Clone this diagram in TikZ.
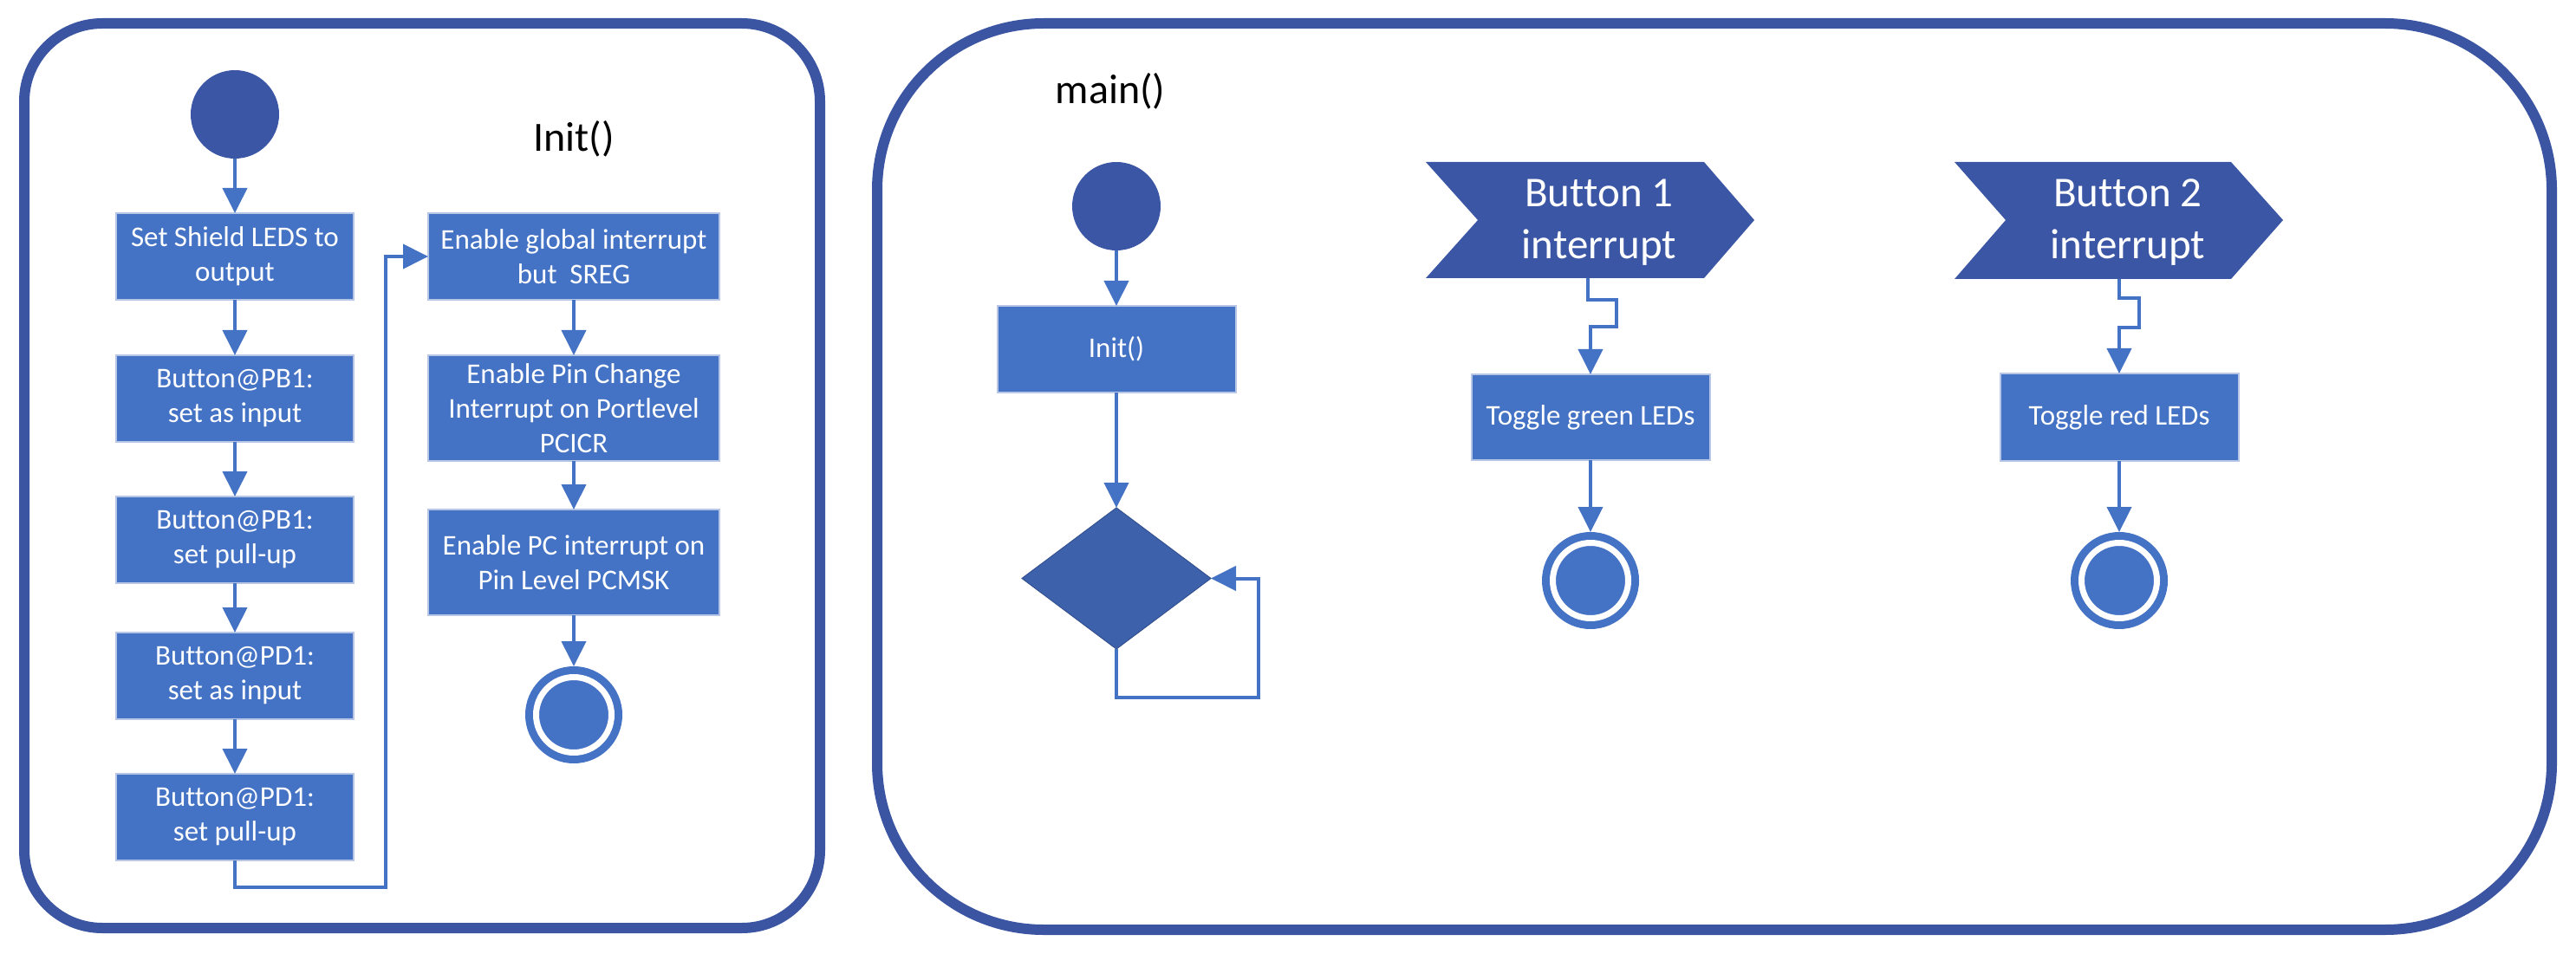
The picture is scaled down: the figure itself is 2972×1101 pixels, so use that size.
\documentclass[tikz,border=0pt]{standalone}
\usepackage{fontspec}
\setmainfont{Carlito}[Ligatures=NoCommon]
\usetikzlibrary{arrows.meta,shapes.geometric}
\definecolor{frameblue}{HTML}{3B55A3}
\definecolor{darkblue}{HTML}{3B56A5}
\definecolor{boxblue}{HTML}{4472C4}
\definecolor{boxedge}{HTML}{B8C6E6}
\definecolor{diablue}{HTML}{3E61AB}
\begin{document}
\begin{tikzpicture}[x=0.5pt,y=-0.5pt,
  box/.style={rectangle, fill=boxblue, draw=boxedge, line width=1pt, text=white, align=center,
    font=\fontsize{16.5}{20}\selectfont, inner sep=0pt, outer sep=0pt},
  startnode/.style={circle, fill=darkblue, minimum size=51pt, inner sep=0pt, outer sep=0pt},
  finalnode/.style={circle, fill=boxblue, draw=boxblue, double=white, double distance=3.5pt,
    line width=4.5pt, minimum size=43.5pt, inner sep=0pt, outer sep=6.25pt},
  arr/.style={draw=boxblue, line width=2pt, -{Triangle[length=14.5pt,width=14pt]}},
  frame/.style={draw=frameblue, line width=6pt},
  title/.style={font=\fontsize{24}{29}\selectfont, text=black},
  sigtext/.style={text=white, align=center, font=\fontsize{24.5}{30}\selectfont}]
\useasboundingbox (0,0) rectangle (2972,1101);

% frames
\draw[frame, rounded corners=45pt] (28,27) rectangle (946,1071);
\draw[frame, rounded corners=96pt] (1012,27) rectangle (2944,1073);

% ---------- Init() ----------
\node[title] (tinit) at (662,160) {Init()};
\node[startnode] (s1) at (271,132) {};
\node[box, minimum width=137pt, minimum height=50pt] (b1) at (271,296) {Set Shield LEDS to\\output};
\node[box, minimum width=137pt, minimum height=50pt] (b2) at (271,460) {Button@PB1:\\set as input};
\node[box, minimum width=137pt, minimum height=50pt] (b3) at (271,623) {Button@PB1:\\set pull-up};
\node[box, minimum width=137pt, minimum height=50pt] (b4) at (271,780) {Button@PD1:\\set as input};
\node[box, minimum width=137pt, minimum height=50pt] (b5) at (271,943) {Button@PD1:\\set pull-up};
\node[box, minimum width=168pt, minimum height=50pt] (b6) at (662,296) {Enable global interrupt\\but\ \ SREG};
\node[box, minimum width=168pt, minimum height=61pt] (b7) at (662,471) {Enable Pin Change\\Interrupt on Portlevel\\PCICR};
\node[box, minimum width=168pt, minimum height=61pt] (b8) at (662,649) {Enable PC interrupt on\\Pin Level PCMSK};
\node[finalnode] (e1) at (662,825) {};

\draw[arr] (s1.south) -- (b1.north);
\draw[arr] (b1.south) -- (b2.north);
\draw[arr] (b2.south) -- (b3.north);
\draw[arr] (b3.south) -- (b4.north);
\draw[arr] (b4.south) -- (b5.north);
\draw[arr] (b5.south) |- (445,1024) |- (b6.west);
\draw[arr] (b6.south) -- (b7.north);
\draw[arr] (b7.south) -- (b8.north);
\draw[arr] (b8.south) -- (e1.north);

% ---------- main() ----------
\node[title] (tmain) at (1281,105) {main()};
\node[startnode] (s2) at (1288,238) {};
\node[box, minimum width=137.5pt, minimum height=50pt] (m1) at (1288,403) {Init()};
\node[diamond, fill=diablue, draw=diablue!85!black, line width=0.5pt, minimum width=109pt,
  minimum height=81.5pt, inner sep=0pt, outer sep=0pt] (d1) at (1288,667.5) {};
\draw[arr] (s2.south) -- (m1.north);
\draw[arr] (m1.south) -- (d1.north);
\draw[arr] (d1.south) |- (1452,805) |- (d1.east);

% ---------- Button 1 ----------
\fill[darkblue] (1645,187) -- (1966,187) -- (2024,254) -- (1966,321) -- (1645,321) -- (1705,254) -- cycle;
\node[sigtext] (i1) at (1845,257) {Button 1\\interrupt};
\coordinate (c1) at (1832,321);
\node[box, minimum width=137.5pt, minimum height=49.5pt] (g1) at (1835,481.5) {Toggle green LEDs};
\node[finalnode] (e2) at (1835,670) {};
\draw[arr] (c1) -- (1832,346) -- (1865,346) -- (1865,377) -- (1835,377) -- (g1.north);
\draw[arr] (g1.south) -- (e2.north);

% ---------- Button 2 ----------
\fill[darkblue] (2255,187) -- (2574,187) -- (2634,254) -- (2574,322) -- (2255,322) -- (2314,254) -- cycle;
\node[sigtext] (i2) at (2455,257) {Button 2\\interrupt};
\coordinate (c2) at (2445,322);
\node[box, minimum width=137.5pt, minimum height=50.5pt] (r1) at (2445,481.5) {Toggle red LEDs};
\node[finalnode] (e3) at (2445,670) {};
\draw[arr] (c2) -- (2445,344) -- (2468,344) -- (2468,378) -- (2445,378) -- (r1.north);
\draw[arr] (r1.south) -- (e3.north);
\end{tikzpicture}
\end{document}
